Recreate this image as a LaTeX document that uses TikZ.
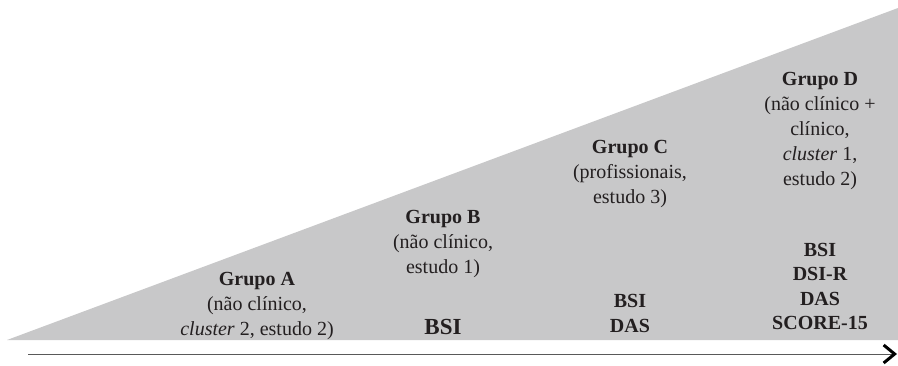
\documentclass[tikz,border=0pt]{standalone}
\usepackage{fontspec}
\setmainfont{Liberation Serif}
\usetikzlibrary{arrows.meta}
\definecolor{wedgegray}{RGB}{200,200,201}
\definecolor{inkblack}{RGB}{35,31,32}
\tikzset{
  grp/.style={align=center, inner sep=0pt, text=inkblack,
    font=\fontsize{20}{25}\selectfont},
  inst/.style={grp, font=\fontsize{20}{24.5}\selectfont\bfseries}
}
\begin{document}
\begin{tikzpicture}[x=1pt,y=1pt]
  \useasboundingbox (0,0) rectangle (898,365);
  \fill[wedgegray] (7,25) -- (898,25) -- (898,357) -- cycle;
  \coordinate (start) at (28,11);
  \coordinate (end) at (897,11);
  \draw[black!65, line width=0.9pt,
    -{Straight Barb[length=11pt,width=18pt,line width=3pt,color=black]}]
    (start) -- (end);
  % grupos
  \node[grp] (grpA) at (257,59) {\textbf{Grupo A}\\(não clínico,\\\textit{cluster} 2, estudo 2)};
  \node[grp] (grpB) at (443,121) {\textbf{Grupo B}\\(não clínico,\\estudo 1)};
  \node[grp] (grpC) at (630,191) {\textbf{Grupo C}\\(profissionais,\\estudo 3)};
  \node[grp] (grpD) at (820,234) {\textbf{Grupo D}\\(não clínico +\\clínico,\\\textit{cluster} 1,\\estudo 2)};
  % instrumentos
  \node[inst, font=\fontsize{23}{25}\selectfont\bfseries] (instB) at (443,38) {BSI};
  \node[inst] (instC) at (630,51.5) {BSI\\DAS};
  \node[inst] (instD) at (820,78.5) {BSI\\DSI-R\\DAS\\SCORE-15};
\end{tikzpicture}
\end{document}
